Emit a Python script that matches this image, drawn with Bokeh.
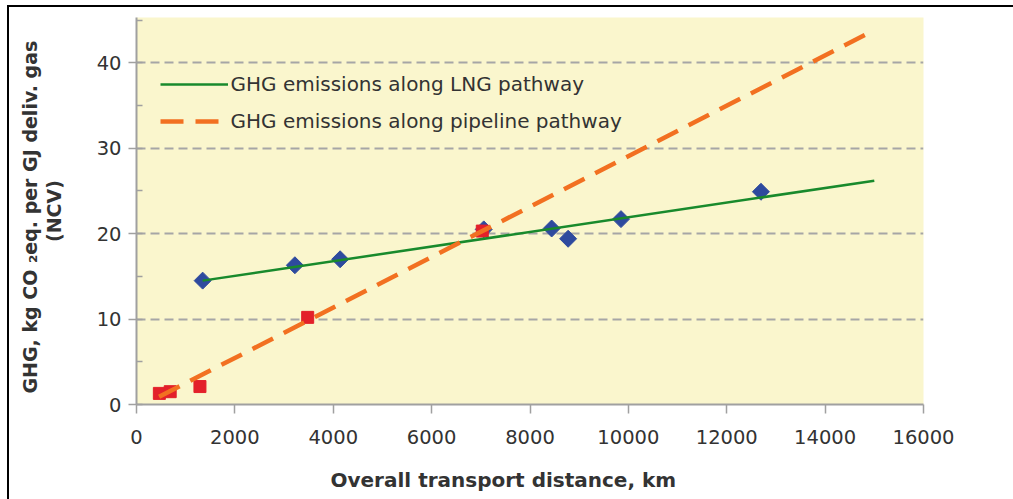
from bokeh.plotting import figure
from bokeh.models import Range1d, SingleIntervalTicker, Legend, LegendItem, Title
from bokeh.embed import file_html
from bokeh.resources import INLINE

# ---- data ----
lng_km = [1345, 3220, 4140, 7060, 8440, 8775, 9850, 12695]
lng_ghg = [14.5, 16.3, 17.0, 20.5, 20.6, 19.4, 21.7, 24.9]
pipe_km = [465, 685, 1290, 3480, 7030]
pipe_ghg = [1.3, 1.5, 2.1, 10.2, 20.3]
lng_fit_km = [1345, 15000]
lng_fit_ghg = [14.5, 26.2]
pipe_fit_km = [460, 14890]
pipe_fit_ghg = [0.9, 43.5]
series_labels = ["GHG emissions along LNG pathway", "GHG emissions along pipeline pathway"]
x_title = "Overall transport distance, km"
y_title = "GHG, kg CO \u2082eq. per GJ deliv. gas"
y_title2 = "(NCV)"

p = figure(frame_width=787, frame_height=387,
           min_border_left=136, min_border_right=90, min_border_top=17, min_border_bottom=95,
           x_range=Range1d(0, 16000), y_range=Range1d(0, 45.3),
           output_backend="svg", toolbar_location=None)
p.styles = {"box-shadow": "inset 7px 5px 0 0 #ffffff, inset 9px 7px 0 0 #000000"}
p.background_fill_color = "#faf6cd"
p.border_fill_color = None
p.outline_line_color = None

axis_col = "#a0a0a0"
p.xaxis.ticker = SingleIntervalTicker(interval=2000, num_minor_ticks=0)
p.yaxis.ticker = SingleIntervalTicker(interval=10, num_minor_ticks=2)
for ax in (p.xaxis, p.yaxis):
    ax.axis_line_color = axis_col
    ax.axis_line_width = 2
    ax.major_tick_line_color = axis_col
    ax.major_tick_line_width = 1.5
    ax.major_tick_in = 0
    ax.major_label_text_font = "DejaVu Sans"
    ax.major_label_text_font_size = "19.5px"
    ax.major_label_text_color = "#333333"
p.xaxis.major_tick_out = 9
p.xaxis.minor_tick_line_color = None
p.xaxis.major_label_standoff = 16
p.yaxis.major_tick_out = 8
p.yaxis.minor_tick_line_color = axis_col
p.yaxis.minor_tick_line_width = 1.5
p.yaxis.minor_tick_in = 6
p.yaxis.minor_tick_out = 0
p.yaxis.major_label_standoff = 7

# second line of the y title as the axis label
p.yaxis.axis_label = y_title2
p.yaxis.axis_label_standoff = 29
p.yaxis.axis_label_text_font = "DejaVu Sans"
p.yaxis.axis_label_text_font_style = "bold"
p.yaxis.axis_label_text_font_size = "19px"
p.yaxis.axis_label_text_color = "#333333"

# first line of the y title
p.add_layout(Title(text=y_title, align="left", offset=11, vertical_align="bottom", standoff=-2,
                   text_font="DejaVu Sans", text_font_style="bold", text_font_size="19px",
                   text_color="#333333"), "left")
# x title (leading empty line pushes it down inside its panel)
p.add_layout(Title(text="\n" + x_title, align="left", offset=194, vertical_align="bottom", standoff=0,
                   text_line_height=0.83,
                   text_font="DejaVu Sans", text_font_style="bold", text_font_size="20px",
                   text_color="#333333"), "below")

p.xgrid.grid_line_color = None
p.ygrid.grid_line_color = "#a6a6a6"
p.ygrid.grid_line_dash = "9 5"
p.ygrid.grid_line_width = 2

p.scatter(lng_km, lng_ghg, marker="square", size=12, angle=0.785398, color="#2e4a9e")
p.scatter(pipe_km, pipe_ghg, marker="square", size=12, color="#e3202a")
g = p.line(lng_fit_km, lng_fit_ghg, line_color="#188a2c", line_width=2.5)
o = p.line(pipe_fit_km, pipe_fit_ghg, line_color="#f27021", line_width=4.5, line_dash="23 12")

legend = Legend(items=[LegendItem(label=series_labels[0], renderers=[g]),
                       LegendItem(label=series_labels[1], renderers=[o])],
                location=(23.5, 271.5), orientation="vertical",
                glyph_width=68, glyph_height=20, label_height=20, spacing=13,
                label_standoff=3, padding=0, margin=0,
                background_fill_alpha=0, border_line_color=None,
                label_text_font="DejaVu Sans", label_text_font_size="20px",
                label_text_color="#333333")
p.add_layout(legend)

open("out.html", "w").write(file_html(p, INLINE))
